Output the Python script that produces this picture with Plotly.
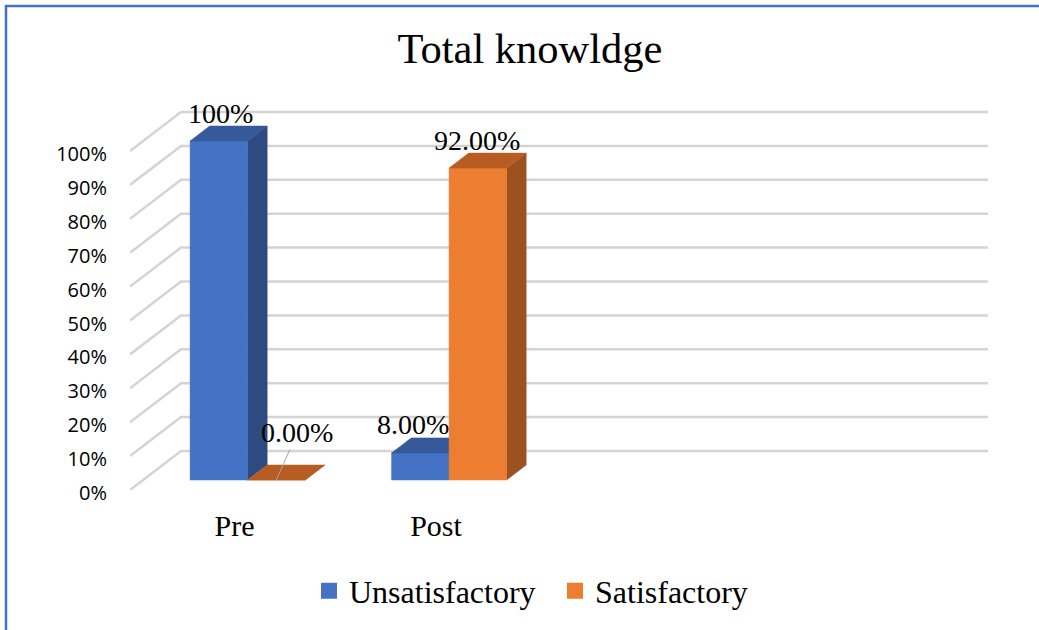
import plotly.graph_objects as go

# ---------------- data ----------------
categories = ["Pre", "Post"]
series_names = ["Unsatisfactory", "Satisfactory"]
unsat_values = [100, 8]
sat_values = [0, 92]
unsat_labels = ["100%", "8.00%"]
sat_labels = ["0.00%", "92.00%"]
y_tick_values = [0, 10, 20, 30, 40, 50, 60, 70, 80, 90, 100]
y_tick_labels = ["0%", "10%", "20%", "30%", "40%", "50%", "60%", "70%", "80%", "90%", "100%"]

# ---------------- style / geometry ----------------
W, H = 1039, 630
ML, MR, MT, MB = 130, 40, 100, 140
PX_PER_CAT = 201.5
PX_PER_PCT = 3.39
plot_w = W - ML - MR
plot_h = H - MT - MB
X0 = (ML - 234.5) / PX_PER_CAT
X1 = X0 + plot_w / PX_PER_CAT
Y1 = plot_h / PX_PER_PCT

DX = 51 / PX_PER_CAT      # depth shift in x (category units)
DY = 39 / PX_PER_PCT      # depth shift in y (percent units)
T0, T1 = 10 / 39, 25 / 39  # bar depth range
BW = 57.5 / PX_PER_CAT    # bar width
GRID_RIGHT = (988 - 234.5) / PX_PER_CAT

colors = {
    "Unsatisfactory": {"front": "#4472C4", "side": "#2D4B80", "top": "#36599A"},
    "Satisfactory": {"front": "#ED7D31", "side": "#9E5120", "top": "#B85D22"},
}

fig = go.Figure()

# gridlines (side wall diagonals + back wall horizontals)
gx, gy = [], []
for v in y_tick_values:
    gx += [X0, X0 + DX, GRID_RIGHT, None]
    gy += [v, v + DY, v + DY, None]
fig.add_trace(go.Scatter(x=gx, y=gy, mode="lines", line=dict(color="#D4D4D4", width=2.5),
                         hoverinfo="skip", showlegend=False))


def add_bar(xl, v, col):
    xr = xl + BW
    sx0, sy0 = T0 * DX, T0 * DY
    sx1, sy1 = T1 * DX, T1 * DY
    # side face
    fig.add_trace(go.Scatter(
        x=[xr + sx0, xr + sx1, xr + sx1, xr + sx0, xr + sx0],
        y=[sy0, sy1, v + sy1, v + sy0, sy0],
        mode="lines", fill="toself", fillcolor=col["side"],
        line=dict(color=col["side"], width=0.5), hoverinfo="skip", showlegend=False))
    # front face
    fig.add_trace(go.Scatter(
        x=[xl + sx0, xr + sx0, xr + sx0, xl + sx0, xl + sx0],
        y=[sy0, sy0, v + sy0, v + sy0, sy0],
        mode="lines", fill="toself", fillcolor=col["front"],
        line=dict(color=col["front"], width=0.5), hoverinfo="skip", showlegend=False))
    # top face
    fig.add_trace(go.Scatter(
        x=[xl + sx0, xr + sx0, xr + sx1, xl + sx1, xl + sx0],
        y=[v + sy0, v + sy0, v + sy1, v + sy1, v + sy0],
        mode="lines", fill="toself", fillcolor=col["top"],
        line=dict(color=col["top"], width=0.5), hoverinfo="skip", showlegend=False))


annotations = []
label_shift = {  # (xshift, yshift, arrow)
    ("Unsatisfactory", 0): (1.5, 27.5, False),
    ("Satisfactory", 0): (0, 0, True),
    ("Unsatisfactory", 1): (-7.5, 28, False),
    ("Satisfactory", 1): (-0.5, 27.5, False),
}

for i, cat in enumerate(categories):
    for name, vals, labs, left in [("Unsatisfactory", unsat_values, unsat_labels, -BW),
                                   ("Satisfactory", sat_values, sat_labels, 0.0)]:
        xl = i + left
        add_bar(xl, vals[i], colors[name])
        cx = xl + T0 * DX + BW / 2
        cy = vals[i] + T0 * DY
        xs, ys, arrow = label_shift[(name, i)]
        if arrow:
            annotations.append(dict(x=cx, y=cy, text=labs[i], showarrow=True, arrowhead=0,
                                    arrowwidth=1, arrowcolor="#A6A6A6", ax=21, ay=-47.5,
                                    font=dict(family="Liberation Serif", size=28, color="#000000")))
        else:
            annotations.append(dict(x=cx, y=cy, text=labs[i], showarrow=False,
                                    xshift=xs, yshift=ys, yanchor="middle", xanchor="center",
                                    font=dict(family="Liberation Serif", size=28, color="#000000")))

# legend entries
for name in series_names:
    fig.add_trace(go.Scatter(x=[None], y=[None], mode="markers", name=name,
                             marker=dict(symbol="square", size=16, color=colors[name]["front"])))

fig.update_layout(
    width=W, height=H,
    margin=dict(l=ML, r=MR, t=MT, b=MB),
    paper_bgcolor="white", plot_bgcolor="white",
    title=dict(text="Total knowldge", x=530 / W, xanchor="center", y=1 - 48 / H, yanchor="middle",
               font=dict(family="Liberation Serif", size=42.5, color="#000000")),
    xaxis=dict(range=[X0, X1], tickmode="array", tickvals=list(range(len(categories))),
               ticktext=categories, showgrid=False, zeroline=False, showline=False,
               ticks="outside", ticklen=9, tickcolor="rgba(0,0,0,0)",
               tickfont=dict(family="Liberation Serif", size=30, color="#000000"), fixedrange=True),
    yaxis=dict(range=[0, Y1], tickmode="array", tickvals=y_tick_values, ticktext=y_tick_labels,
               showgrid=False, zeroline=False, showline=False,
               ticks="outside", ticklen=18, tickcolor="rgba(0,0,0,0)", ticklabelshift=3,
               tickfont=dict(family="Open Sans", size=20, color="#000000"), fixedrange=True),
    legend=dict(orientation="h", x=(309 - ML) / plot_w, xanchor="left", entrywidth=201,
                y=-(591 - (H - MB)) / plot_h, yanchor="middle",
                font=dict(family="Liberation Serif", size=32, color="#000000"),
                itemclick=False, itemdoubleclick=False),
    annotations=annotations,
    shapes=[dict(type="rect", xref="paper", yref="paper",
                 x0=(6 - ML) / plot_w, x1=(W + 10 - ML) / plot_w,
                 y0=-(H + 10 - (H - MB)) / plot_h, y1=((H - MB) - 6) / plot_h,
                 line=dict(color="#4472C4", width=2.5), layer="above")],
    showlegend=True,
)

fig.write_html("out.html", config={"displayModeBar": False},
               post_script="document.body.style.margin='0';document.body.style.overflow='hidden';")
